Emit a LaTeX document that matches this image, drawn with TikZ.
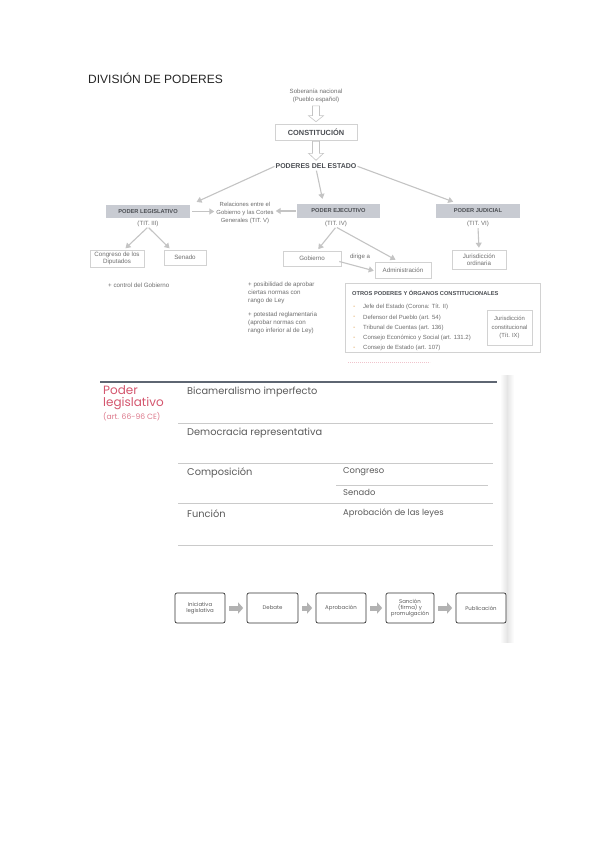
\documentclass[tikz,border=0pt]{standalone}
\usepackage{fontspec}
\setmainfont{Liberation Sans}
\newfontfamily\pop{Poppins}
\usetikzlibrary{arrows.meta,calc}
\definecolor{txt}{HTML}{6E6E6E}
\definecolor{dk}{HTML}{4A4D52}
\definecolor{bl}{HTML}{D2D2D2}
\definecolor{gfill}{HTML}{C8CBD2}
\definecolor{ar}{HTML}{C4C4C4}
\definecolor{rd}{HTML}{D4566E}
\definecolor{orn}{HTML}{E0A050}
\definecolor{ln}{HTML}{CACACA}
\definecolor{top}{HTML}{5E6672}
\definecolor{ptxt}{HTML}{5A5A5A}
\tikzset{
  t/.style={font=\fontsize{6.1}{7.6}\selectfont, text=txt, inner sep=0pt, align=center},
  tl/.style={font=\fontsize{6.2}{8}\selectfont, text=txt, inner sep=0pt, align=left, anchor=north west},
  wbox/.style={draw=bl, line width=0.6pt, fill=white, inner sep=0pt, align=center, font=\fontsize{6.2}{7.4}\selectfont, text=txt},
  gbox/.style={fill=gfill, inner sep=0pt, align=center, font=\bfseries\fontsize{5.7}{6}\selectfont, text=dk},
  con/.style={draw=ar, line width=1.1pt, -{Triangle[length=5pt,width=6pt]}},
  ptext/.style={font=\pop\fontsize{9.8}{11}\selectfont, text=ptxt, inner sep=0pt, anchor=west},
  psm/.style={font=\pop\fontsize{8.4}{10}\selectfont, text=ptxt, inner sep=0pt, anchor=west},
  rule/.style={draw=ln, line width=0.6pt},
  pbox/.style={draw=black!80, line width=0.7pt, rounded corners=2pt, fill=white, minimum width=50pt, minimum height=30pt, inner sep=1pt, align=center, font=\pop\fontsize{5.4}{6.2}\selectfont, text=ptxt},
  parr/.style={draw=black!30, line width=5pt, -{Triangle[length=5pt,width=11pt]}, shorten <=4pt, shorten >=3.5pt}
}
\begin{document}
\begin{tikzpicture}[x=1pt,y=-1pt]
\useasboundingbox (0,0) rectangle (599,848);
\fill[white] (0,0) rectangle (599,848);

% title
\node[anchor=west, inner sep=0pt, font=\fontsize{12}{14}\selectfont, text=black!85] (title) at (88,78) {DIVISIÓN DE PODERES};

% top chain
\node[t] (sob) at (316,96) {Soberanía nacional\\(Pueblo español)};
\node[wbox, minimum width=82pt, minimum height=16pt, font=\bfseries\fontsize{7.4}{8}\selectfont, text=dk] (con) at (316,132) {CONSTITUCIÓN};
\node[inner sep=0pt, font=\bfseries\fontsize{7}{8}\selectfont, text=dk] (pod) at (316,166) {PODERES DEL ESTADO};
\draw[draw=ar, line width=0.6pt, fill=white]
  ($(sob.south)+(-3.5,3)$) -- ($(con.north)+(-3.5,-8)$) -- ($(con.north)+(-7.5,-8)$) -- ($(con.north)+(0,-2)$)
  -- ($(con.north)+(7.5,-8)$) -- ($(con.north)+(3.5,-8)$) -- ($(sob.south)+(3.5,3)$) -- cycle;
\draw[draw=ar, line width=0.6pt, fill=white]
  ($(con.south)+(-3.5,1)$) -- ($(pod.north)+(-3.5,-10)$) -- ($(pod.north)+(-7.5,-10)$) -- ($(pod.north)+(0,-3)$)
  -- ($(pod.north)+(7.5,-10)$) -- ($(pod.north)+(3.5,-10)$) -- ($(con.south)+(3.5,1)$) -- cycle;

% three powers
\node[gbox, minimum width=84pt, minimum height=13pt] (leg) at (148,211.5) {PODER LEGISLATIVO};
\node[t] (t3) at (148,224) {(TIT. III)};
\node[gbox, minimum width=83pt, minimum height=14pt] (eje) at (338.5,211) {PODER EJECUTIVO};
\node[t] (t4) at (336,224) {(TIT. IV)};
\node[gbox, minimum width=84pt, minimum height=14pt] (jud) at (478,211) {PODER JUDICIAL};
\node[t] (t6) at (478,224) {(TIT. VI)};
\node[t, font=\fontsize{5.9}{7.8}\selectfont] (rel) at (245,213) {Relaciones entre el\\Gobierno y las Cortes\\Generales (TIT. V)};

\draw[con, shorten <=1pt, shorten >=7pt] (pod.west) -- (leg.north east);
\draw[con, shorten <=2pt, shorten >=5pt] (pod.south) -- ($(eje.north)+(-15,0)$);
\draw[con, shorten <=1pt, shorten >=3pt] (pod.east) -- ($(jud.north)+(-22,-1)$);
\draw[con, shorten <=2pt, shorten >=2pt] (leg.east) -- (rel.west |- leg.east);
\draw[con, shorten <=1pt, shorten >=2pt] (eje.west) -- (rel.east |- eje.west);

% lower boxes
\node[wbox, minimum width=54pt, minimum height=17pt] (cong) at (117,258.5) {Congreso de los\\Diputados};
\node[wbox, minimum width=42pt, minimum height=15pt] (sen) at (185,257.5) {Senado};
\node[wbox, minimum width=58pt, minimum height=15pt] (gob) at (312,258.5) {Gobierno};
\node[wbox, minimum width=56pt, minimum height=16pt] (adm) at (403,270) {Administración};
\node[wbox, minimum width=54pt, minimum height=19pt] (jur) at (479,259.5) {Jurisdicción\\ordinaria};

\draw[con, shorten <=1pt, shorten >=2pt] (t3.south) -- ($(cong.north)+(7,0)$);
\draw[con, shorten <=1pt, shorten >=2pt] (t3.south) -- ($(sen.north)+(-14,0)$);
\draw[con, shorten <=1pt, shorten >=2pt] (t4.south) -- ($(gob.north)+(5,0)$);
\draw[con, shorten <=1pt, shorten >=4pt] (t4.south) -- ($(adm.north)+(-4,0)$);
\draw[con, shorten <=1pt, shorten >=2pt] (t6.south) -- (jur.north);
\draw[con, shorten >=1pt] ($(gob.east)+(-2,3)$) -- ($(adm.west)+(0,1)$);
\node[t] (dir) at (360,257) {dirige a};

% bullets
\node[tl] (b1) at (108,282.5) {+ control del Gobierno};
\node[tl] (b2) at (248,281.5) {+ posibilidad de aprobar\\ciertas normas con\\rango de Ley};
\node[tl] (b3) at (248,311.5) {+ potestad reglamentaria\\(aprobar normas con\\rango inferior al de Ley)};

% otros poderes
\node[draw=bl, line width=0.9pt, minimum width=195pt, minimum height=69pt, inner sep=0pt] (otros) at (442.5,317.5) {};
\node[anchor=west, inner sep=0pt, font=\bfseries\fontsize{5.7}{6}\selectfont, text=dk] (otit) at (352,293) {OTROS PODERES Y ÓRGANOS CONSTITUCIONALES};
\foreach \yy/\tx [count=\i] in {307/{Jefe del Estado (Corona: Tít. II)}, 317.5/{Defensor del Pueblo (art. 54)}, 328/{Tribunal de Cuentas (art. 136)}, 338/{Consejo Económico y Social (art. 131.2)}, 348/{Consejo de Estado (art. 107)}}{
  \node[anchor=west, inner sep=0pt, font=\fontsize{7}{7}\selectfont, text=orn] (od\i) at (353,\yy) {-};
  \node[anchor=west, inner sep=0pt, font=\fontsize{6}{7}\selectfont, text=txt] (oi\i) at (363,\yy) {\tx};
}
\node[wbox, minimum width=45pt, minimum height=35pt, font=\fontsize{5.9}{8.5}\selectfont] (jc) at (509.5,327.5) {Jurisdicción\\constitucional\\(Tít. IX)};
\draw[rd!35, line width=0.5pt, dash pattern=on 1.2pt off 0.8pt] (348,362) -- (430,362);

% ---------- second part ----------
\shade[left color=white, right color=black!10] (500,375) rectangle (507,642);
\shade[left color=black!10, right color=white] (507,375) rectangle (514,642);
\draw[top, line width=1.6pt] (100,382) -- (497,382);
\node[anchor=north west, inner sep=0pt, align=left, font=\pop\fontsize{12}{12.5}\selectfont, text=rd] (pl) at (103,385) {Poder\\legislativo};
\node[anchor=west, inner sep=0pt, font=\pop\fontsize{7.6}{8}\selectfont, text=rd!80] (art) at (103,416.5) {(art. 66-96 CE)};

\node[ptext] (bic) at (187,392) {Bicameralismo imperfecto};
\draw[rule] (178,423) -- (493,423);
\node[ptext] (dem) at (187,433) {Democracia representativa};
\draw[rule] (178,463) -- (493,463);
\node[ptext] (comp) at (187,473) {Composición};
\node[psm] (cg) at (343,472) {Congreso};
\draw[rule] (336,485) -- (488,485);
\node[psm] (sd) at (343,492) {Senado};
\draw[rule] (178,503) -- (493,503);
\node[ptext] (fun) at (187,514) {Función};
\node[psm] (apr) at (343,513) {Aprobación de las leyes};
\draw[rule] (178,545) -- (493,545);

% process
\node[pbox] (p1) at (200,608) {Iniciativa\\legislativa};
\node[pbox, minimum width=51pt] (p2) at (272.5,608) {Debate};
\node[pbox] (p3) at (341,608) {Aprobación};
\node[pbox, minimum width=48pt] (p4) at (410,608) {Sanción\\(firma) y\\promulgación};
\node[pbox] (p5) at (481,608) {Publicación};
\draw[parr] (p1) -- (p2);
\draw[parr] (p2) -- (p3);
\draw[parr] (p3) -- (p4);
\draw[parr] (p4) -- (p5);
\end{tikzpicture}
\end{document}
